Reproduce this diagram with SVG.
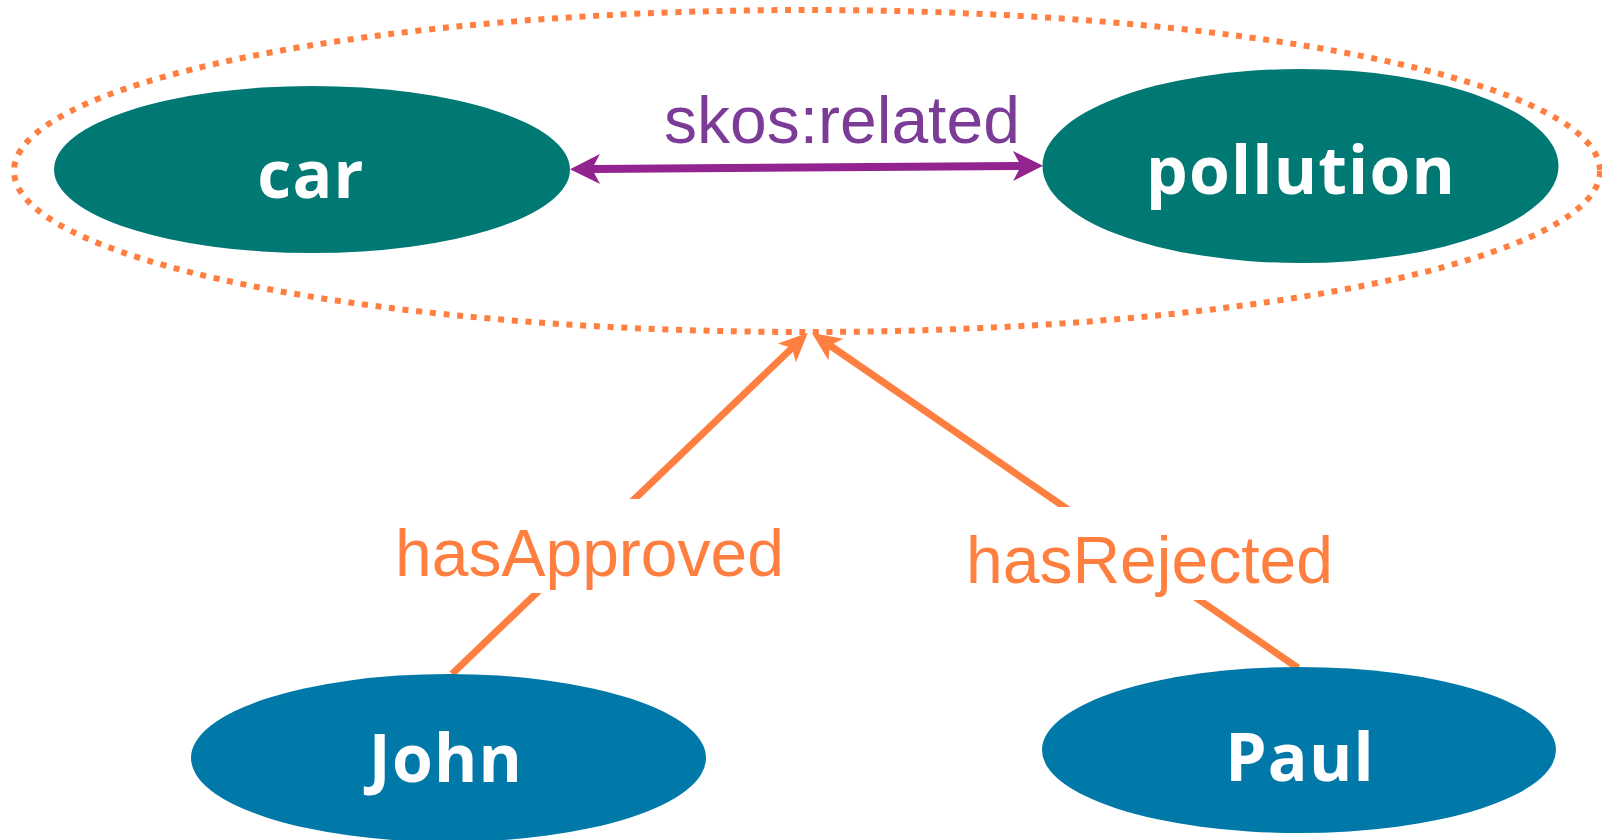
<svg xmlns="http://www.w3.org/2000/svg" width="1602" height="840" viewBox="0 0 1602 840">
<style>
.concept{fill:#007874}
.person{fill:#0079A9}
.nodetext{font-family:"Open Sans","DejaVu Sans",sans-serif;font-weight:bold;font-size:66px;fill:#ffffff;text-anchor:middle;letter-spacing:1.2px}
.label{font-family:"Liberation Sans",Arial,sans-serif;font-size:66px}
.orange{fill:#FF7F41}
.purple{fill:#7D3B98}
.oline{stroke:#FF7F41;stroke-width:7;fill:none}
.pline{stroke:#93238E;stroke-width:8;fill:none}
.group{fill:none;stroke:#FF7F41;stroke-width:6;stroke-dasharray:6 7.7}
</style>
<defs>
<marker id="arrP" markerUnits="userSpaceOnUse" viewBox="-10 -16 34 32" markerWidth="34" markerHeight="32" refX="0" refY="0" orient="auto-start-reverse" overflow="visible">
<path d="M22,0 L-8,-15 L0,0 L-8,15 Z" fill="#93238E"/>
</marker>
<marker id="arrO" markerUnits="userSpaceOnUse" viewBox="-10 -16 34 32" markerWidth="34" markerHeight="32" refX="0" refY="0" orient="auto" overflow="visible">
<path d="M22,0 L-7,-13 L0,0 L-7,13 Z" fill="#FF7F41"/>
</marker>
</defs>
<rect width="1602" height="840" fill="#ffffff"/>
<g id="group-ellipse">
<ellipse class="group" cx="807" cy="171" rx="793" ry="161"/>
</g>
<g id="connectors">
<line class="pline" x1="592" y1="169" x2="1021" y2="166" marker-start="url(#arrP)" marker-end="url(#arrP)"/>
<line class="oline" x1="452" y1="674" x2="792" y2="348" marker-end="url(#arrO)"/>
<line class="oline" x1="1298" y1="668" x2="830" y2="345.5" marker-end="url(#arrO)"/>
<rect x="392" y="499" width="394" height="94" fill="#ffffff"/>
<rect x="963" y="507" width="370" height="93" fill="#ffffff"/>
<text class="label purple" x="664" y="143">skos:related</text>
<text class="label orange" x="395" y="576">hasApproved</text>
<text class="label orange" x="966" y="583">hasRejected</text>
</g>
<g id="node-car">
<ellipse class="concept" cx="312" cy="169.5" rx="258" ry="83.5"/>
<text class="nodetext" x="311" y="198">car</text>
</g>
<g id="node-pollution">
<ellipse class="concept" cx="1300.5" cy="166" rx="258" ry="97"/>
<text class="nodetext" x="1301" y="194">pollution</text>
</g>
<g id="node-john">
<ellipse class="person" cx="448.5" cy="758" rx="257.5" ry="84"/>
<text class="nodetext" x="446" y="782">John</text>
</g>
<g id="node-paul">
<ellipse class="person" cx="1299" cy="750" rx="257" ry="83"/>
<text class="nodetext" x="1300" y="781">Paul</text>
</g>
</svg>
